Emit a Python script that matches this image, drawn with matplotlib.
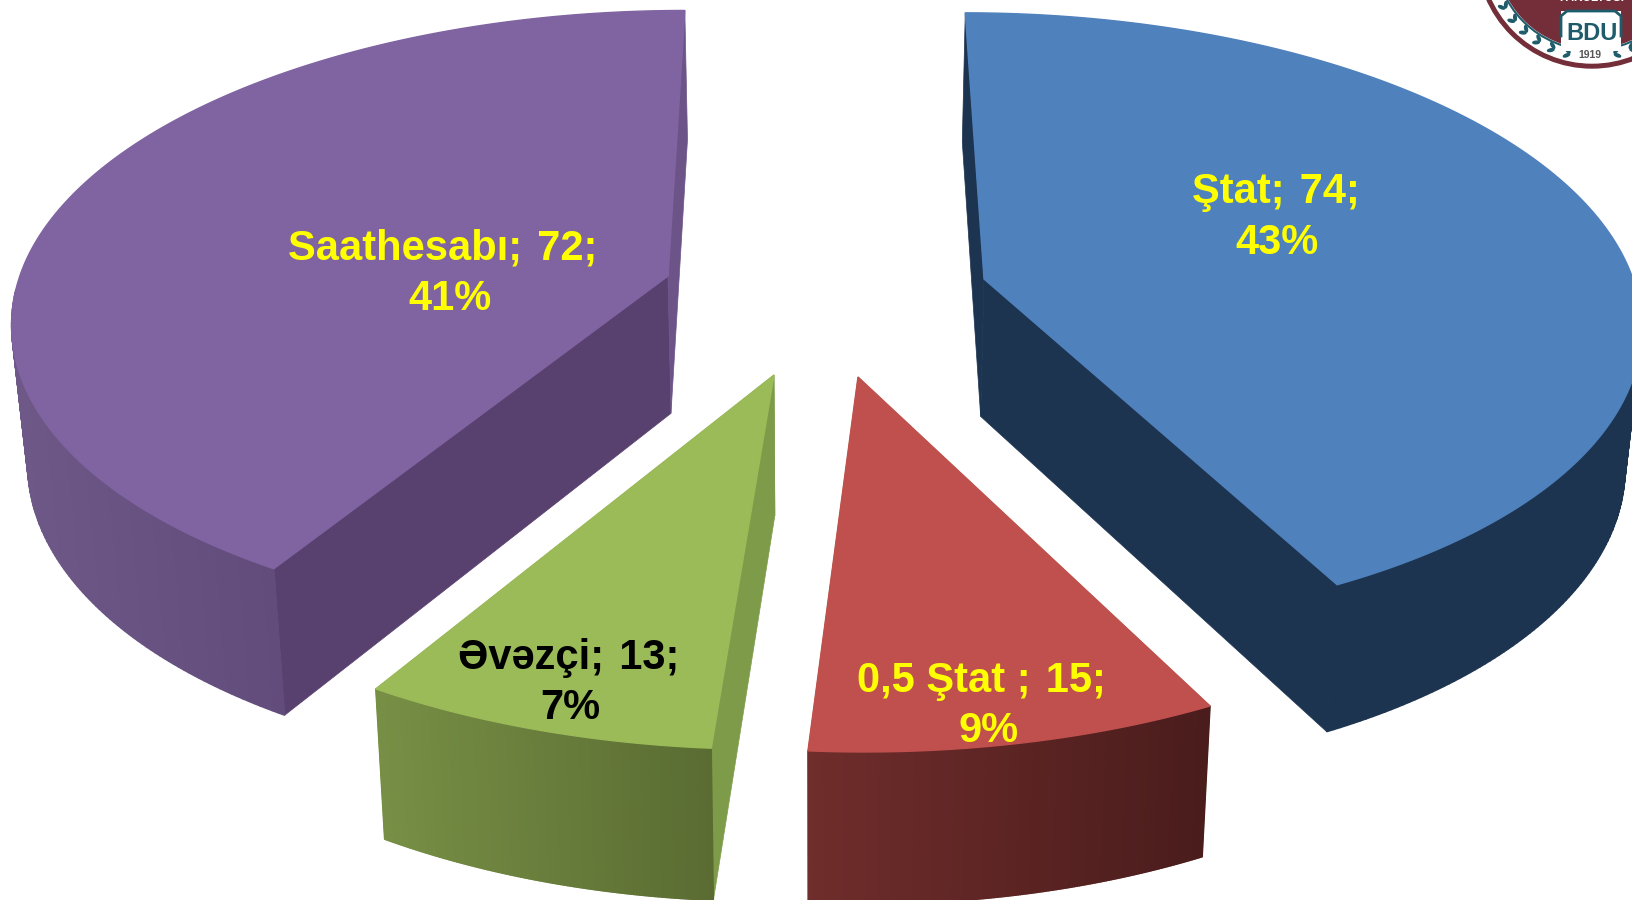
import numpy as np
import matplotlib
matplotlib.use("Agg")
import matplotlib.pyplot as plt
from matplotlib.colors import to_rgb
from matplotlib.patches import Circle, Rectangle, Ellipse

# datos del grafico
categorias = ["Ştat", "0,5 Ştat ", "Əvəzçi", "Saathesabı"]
valores = [74, 15, 13, 72]

# estilo de cada porcion
color_top = ["#4F81BD", "#C0504D", "#9BBB59", "#8064A2"]
color_cara = [["#1D3450", "#1D3450"], ["#7E9B4A", "#7E9B4A"], ["#7E9B4A", "#7E9B4A"], ["#6D5488", "#58416F"]]
color_arco_izq = ["#1D3450", "#6F2D2B", "#778F45", "#6E5887"]
color_arco_der = ["#1D3450", "#4A1C1C", "#5A6C32", "#614C7C"]
color_texto = ["#FFFF00", "#FFFF00", "#000000", "#FFFF00"]
# punta de cada porcion separada (pixeles)
punta_x = [984, 858, 774, 668]
punta_y = [279, 377, 375, 276]
# centro de cada par de lineas de texto
texto_x = [(1276, 1277), (981, 989), (569, 570), (443, 450)]
texto_y = [(192, 243), (681, 731), (658, 708), (249, 299)]

# perspectiva
cx, yh, D, S, k = 817.6, -2083.0, 2362.0, 649.0, 0.127
k_frente = [0.1285, 0.127, 0.127, 0.129]
escala_abajo = 0.98


def arriba(theta, ax_, ay_, kf):
    wa = D / (ay_ - yh)
    sxa = (ax_ - cx) * wa
    c = np.cos(theta)
    w = wa + np.where(c > 0, k, kf) * c
    return cx + (sxa + S * np.sin(theta)) / w, yh + D / w


def abajo(x, y):
    return cx + (x - cx) * escala_abajo, y + 63.5 + 0.0313 * (y - yh)


def mezcla(c1, c2, t):
    a, b = np.array(to_rgb(c1)), np.array(to_rgb(c2))
    return tuple(a + (b - a) * t)


plt.rcParams["font.family"] = ["Liberation Sans", "DejaVu Sans"]
fig = plt.figure(figsize=(16.33, 9), dpi=100)
ax = fig.add_axes([0, 0, 1, 1])
ax.set_xlim(0, 1633)
ax.set_ylim(900, 0)
ax.axis("off")

total = sum(valores)
fin = np.cumsum(valores) / total * 2 * np.pi
inicio = np.concatenate([[0], fin[:-1]])

for i in range(len(valores)):
    px, py = punta_x[i], punta_y[i]
    th = np.linspace(inicio[i], fin[i], 241)
    xt, yt = arriba(th, px, py, k_frente[i])
    xb, yb = abajo(xt, yt)
    pxb, pyb = abajo(px, py)

    # caras planas
    ax.fill([px, xt[0], xb[0], pxb], [py, yt[0], yb[0], pyb], color=color_cara[i][1], lw=0.5, zorder=2)
    ax.fill([px, xt[-1], xb[-1], pxb], [py, yt[-1], yb[-1], pyb], color=color_cara[i][0], lw=0.5, zorder=2)
    # lado curvo con degradado de izquierda a derecha (la parte de atras no se ve)
    frente = xt[np.cos(th) < 0]
    xmin, xmax = frente.min(), frente.max()
    for j in range(len(th) - 1):
        if np.cos(th[j]) > -0.05:
            continue
        t = np.clip((xt[j] - xmin) / (xmax - xmin), 0, 1)
        c = mezcla(color_arco_izq[i], color_arco_der[i], t)
        ax.fill([xt[j], xt[j + 1], xb[j + 1], xb[j]], [yt[j], yt[j + 1], yb[j + 1], yb[j]],
                color=c, lw=1.0, zorder=3)
    # tapa
    ax.fill(np.r_[px, xt], np.r_[py, yt], color=color_top[i], lw=1.0, zorder=4)

    pct = round(valores[i] / total * 100)
    ax.text(texto_x[i][0], texto_y[i][0], f"{categorias[i]};\u200a {valores[i]};", color=color_texto[i],
            fontsize=30, fontweight="bold", ha="center", va="center", zorder=6)
    ax.text(texto_x[i][1], texto_y[i][1], f"{pct}%", color=color_texto[i],
            fontsize=30, fontweight="bold", ha="center", va="center", zorder=6)

# logo de la esquina
lx, ly = 1592, -47
marron = "#732E3A"
verde = "#1F5C6B"
ax.add_patch(Circle((lx, ly), 115, color=marron, zorder=7))
ax.add_patch(Circle((lx, ly), 110, color="white", zorder=7))
ax.add_patch(Circle((lx, ly), 97, fill=False, ec=verde, lw=1.5, zorder=7))
ax.add_patch(Circle((lx, ly), 95, color=marron, zorder=7))
for a in np.arange(14, 86, 9.0):
    for s in (-1, 1):
        ang = np.radians(90 + s * a)
        ex = lx + 103 * np.cos(ang)
        ey = ly + 103 * np.sin(ang)
        for d in (-1, 1):
            ax.add_patch(Ellipse((ex + 2.5 * d * np.cos(ang), ey + 2.5 * d * np.sin(ang)), 6.5, 2.6,
                                 angle=np.degrees(ang) + 90 - s * d * 35, color=verde, zorder=8))
# recuadro de las letras
ax.add_patch(Rectangle((1561, 11), 60, 40, fc="white", ec="none", zorder=8))
ax.plot([1561, 1561, 1567, 1615, 1621, 1621], [36, 16, 11, 11, 16, 36], color=verde, lw=2, zorder=9)
ax.text(lx, 33, "BDU", color=verde, fontsize=17, fontweight="bold", ha="center", va="center", zorder=9)
ax.text(1590, 55, "1919", color="#555555", fontsize=7.5, fontweight="bold", ha="center", va="center", zorder=9)
ax.text(lx, -2, "FAKÜLTƏSİ", color="white", fontsize=8.5, fontweight="bold", ha="center", va="center", zorder=9)

fig.savefig("out.png", dpi=100)
